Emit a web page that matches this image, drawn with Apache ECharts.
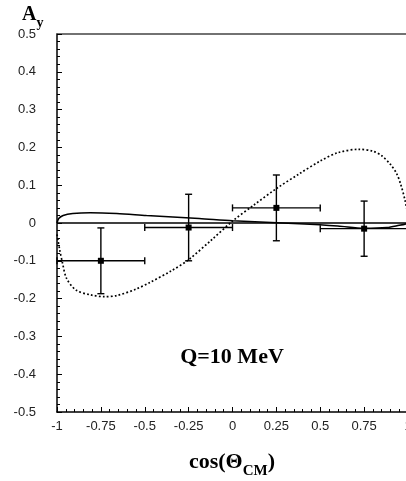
<!DOCTYPE html>
<html>
<head>
<meta charset="utf-8">
<script src="https://cdn.jsdelivr.net/npm/echarts@6/dist/echarts.min.js"></script>
<style>
  html, body { margin: 0; padding: 0; background: #fff; }
  #chart { width: 406px; height: 481px; }
</style>
</head>
<body>
<div id="chart"></div>
<script>
// data
var pointX = [-0.75, -0.25, 0.25, 0.75];
var pointY = [-0.10, -0.012, 0.04, -0.015];
var pointXErr = [0.25, 0.25, 0.25, 0.25];
var pointYErr = [0.087, 0.088, 0.087, 0.073];

var solidX = [-1, -0.99, -0.965, -0.91, -0.81, -0.66, -0.49, -0.19, 0.0, 0.38, 0.6, 0.75, 0.88, 0.95, 0.99, 1.0];
var solidY = [0.0, 0.012, 0.02, 0.025, 0.027, 0.025, 0.02, 0.012, 0.006, -0.002, -0.008, -0.014, -0.012, -0.006, -0.002, 0.0];

var dottedX = [-1.0, -0.985, -0.97, -0.945, -0.89, -0.81, -0.73, -0.66, -0.55, -0.47, -0.35, -0.25, -0.12, 0.0, 0.12, 0.25, 0.38, 0.5, 0.6, 0.72, 0.8, 0.85, 0.9, 0.935, 0.96, 0.983, 1.0];
var dottedY = [-0.03, -0.07, -0.103, -0.147, -0.178, -0.19, -0.195, -0.192, -0.175, -0.157, -0.127, -0.097, -0.045, 0.005, 0.047, 0.091, 0.13, 0.164, 0.186, 0.195, 0.19, 0.178, 0.155, 0.131, 0.1, 0.06, 0.02];

var zeroX = [-1, 1];
var zeroY = [0, 0];

function pairs(xs, ys) {
    var out = [];
    for (var i = 0; i < xs.length; i++) out.push([xs[i], ys[i]]);
    return out;
}

var points = [];
for (var i = 0; i < pointX.length; i++) {
    points.push([pointX[i], pointY[i], pointXErr[i], pointYErr[i]]);
}

var serif = '"Liberation Serif", "DejaVu Serif", serif';
var sans = '"Liberation Sans", Arial, sans-serif';

var myChart = echarts.init(document.getElementById('chart'));
var option = {
    animation: false,
    backgroundColor: '#fff',
    grid: {
        left: 57,
        top: 34,
        right: -2,
        bottom: 69,
        outerBoundsMode: 'none'
    },
    xAxis: [
        {
            type: 'value',
            min: -1,
            max: 1,
            interval: 0.25,
            position: 'bottom',
            axisLine: { show: true, onZero: false, lineStyle: { color: '#000', width: 1.5 } },
            axisTick: { show: true, inside: true, length: 5, lineStyle: { color: '#000', width: 1 } },
            minorTick: { show: true, splitNumber: 5, length: 3, lineStyle: { color: '#000', width: 1 } },
            axisLabel: { color: '#222', fontFamily: sans, fontSize: 13, margin: 8 },
            splitLine: { show: false }
        },
        {
            type: 'value',
            min: -1,
            max: 1,
            position: 'top',
            axisLine: { show: true, onZero: false, lineStyle: { color: '#444', width: 1.5 } },
            axisTick: { show: false },
            axisLabel: { show: false },
            splitLine: { show: false }
        }
    ],
    yAxis: {
        type: 'value',
        min: -0.5,
        max: 0.5,
        interval: 0.1,
        axisLine: { show: true, onZero: false, lineStyle: { color: '#000', width: 1.5 } },
        axisTick: { show: true, inside: true, length: 5, lineStyle: { color: '#000', width: 1 } },
        minorTick: { show: true, splitNumber: 5, length: 3, lineStyle: { color: '#000', width: 1 } },
        axisLabel: { color: '#222', fontFamily: sans, fontSize: 13, margin: 21 },
        splitLine: { show: false }
    },
    graphic: [
        {
            type: 'text',
            x: 22,
            y: 15,
            style: {
                text: '{b|A}{s|y}',
                align: 'left',
                verticalAlign: 'middle',
                rich: {
                    b: { fontFamily: serif, fontWeight: 'bold', fontSize: 20, lineHeight: 30, fill: '#000' },
                    s: { fontFamily: serif, fontWeight: 'bold', fontSize: 14, verticalAlign: 'bottom', fill: '#000' }
                }
            }
        },
        {
            type: 'text',
            x: 232,
            y: 462,
            style: {
                text: '{b|cos(Θ}{s|CM}{b|)}',
                align: 'center',
                verticalAlign: 'middle',
                rich: {
                    b: { fontFamily: serif, fontWeight: 'bold', fontSize: 22, lineHeight: 34, fill: '#000' },
                    s: { fontFamily: serif, fontWeight: 'bold', fontSize: 15, verticalAlign: 'bottom', fill: '#000' }
                }
            }
        },
        {
            type: 'text',
            x: 232,
            y: 357,
            style: {
                text: 'Q=10 MeV',
                align: 'center',
                verticalAlign: 'middle',
                fontFamily: serif,
                fontWeight: 'bold',
                fontSize: 22,
                fill: '#000'
            }
        }
    ],
    series: [
        {
            name: 'zero',
            type: 'line',
            data: pairs(zeroX, zeroY),
            symbol: 'none',
            lineStyle: { color: '#000', width: 1.3 },
            silent: true,
            z: 1
        },
        {
            name: 'solid',
            type: 'line',
            data: pairs(solidX, solidY),
            symbol: 'none',
            smooth: 0.3,
            lineStyle: { color: '#000', width: 1.6 },
            z: 2
        },
        {
            name: 'dotted',
            type: 'line',
            data: pairs(dottedX, dottedY),
            symbol: 'none',
            smooth: 0.3,
            lineStyle: { color: '#000', width: 1.7, type: [1.8, 2.2] },
            z: 2
        },
        {
            name: 'data',
            type: 'custom',
            data: points,
            z: 3,
            renderItem: function (params, api) {
                var x = api.value(0), y = api.value(1);
                var ex = api.value(2), ey = api.value(3);
                var c = api.coord([x, y]);
                var l = api.coord([x - ex, y]);
                var r = api.coord([x + ex, y]);
                var t = api.coord([x, y + ey]);
                var b = api.coord([x, y - ey]);
                var st = { stroke: '#000', lineWidth: 1.4 };
                var cap = 3.5;
                return {
                    type: 'group',
                    children: [
                        { type: 'line', shape: { x1: l[0], y1: l[1], x2: r[0], y2: r[1] }, style: st },
                        { type: 'line', shape: { x1: t[0], y1: t[1], x2: b[0], y2: b[1] }, style: st },
                        { type: 'line', shape: { x1: l[0], y1: l[1] - cap, x2: l[0], y2: l[1] + cap }, style: st },
                        { type: 'line', shape: { x1: r[0], y1: r[1] - cap, x2: r[0], y2: r[1] + cap }, style: st },
                        { type: 'line', shape: { x1: t[0] - cap, y1: t[1], x2: t[0] + cap, y2: t[1] }, style: st },
                        { type: 'line', shape: { x1: b[0] - cap, y1: b[1], x2: b[0] + cap, y2: b[1] }, style: st },
                        { type: 'rect', shape: { x: c[0] - 3, y: c[1] - 3, width: 6, height: 6 }, style: { fill: '#000' } }
                    ]
                };
            }
        }
    ]
};
myChart.setOption(option);
</script>
</body>
</html>
